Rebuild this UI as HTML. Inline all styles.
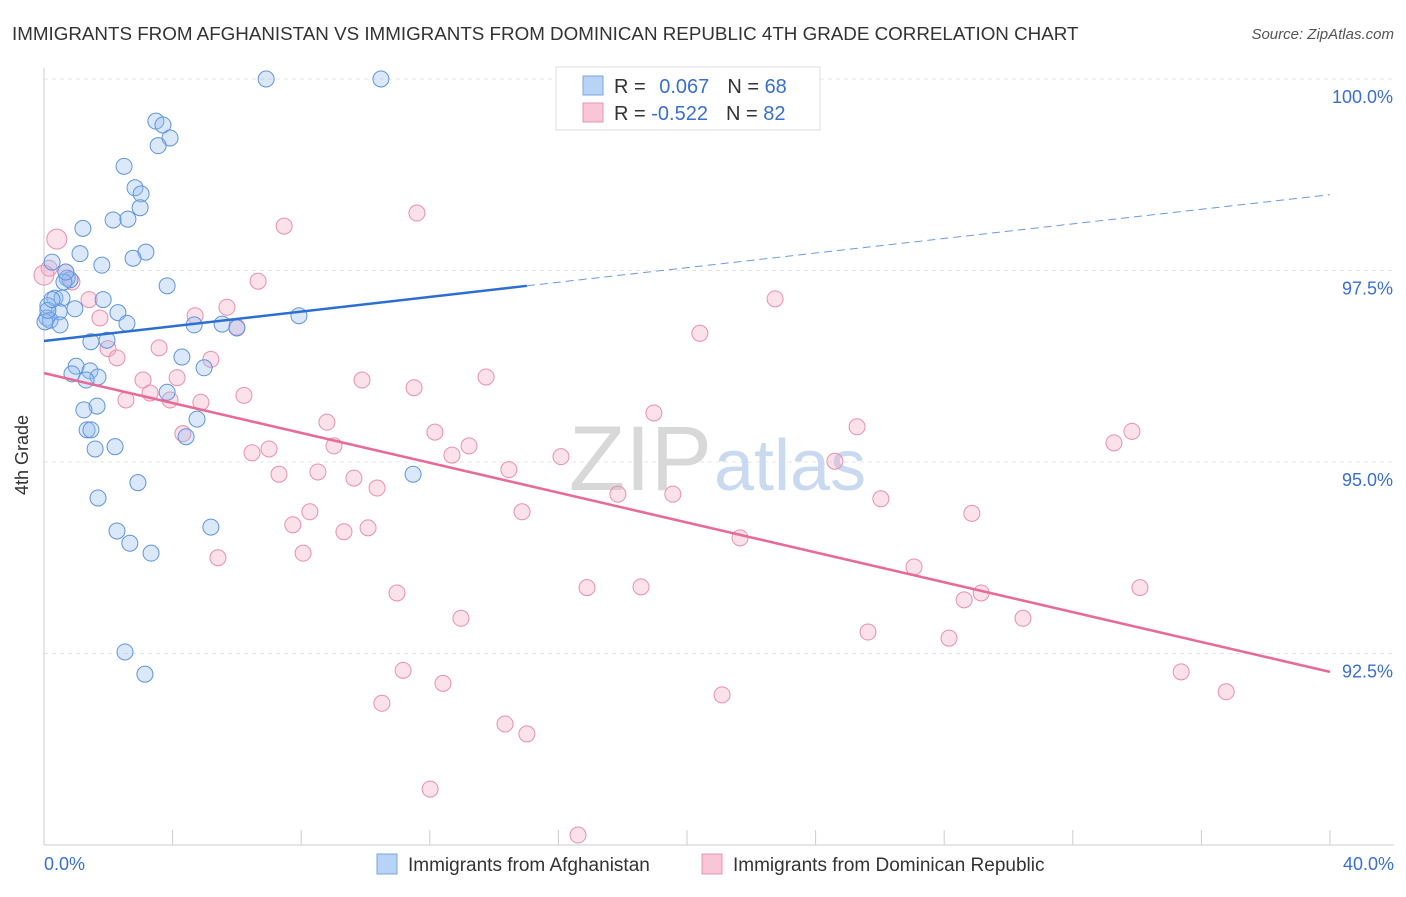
<!DOCTYPE html>
<html><head><meta charset="utf-8"><style>
body{margin:0;background:#fff;font-family:"Liberation Sans",sans-serif}
svg text{font-family:"Liberation Sans",sans-serif}
</style></head><body>
<svg width="1406" height="892">
<text x="12" y="40" font-size="18.8" fill="#333">IMMIGRANTS FROM AFGHANISTAN VS IMMIGRANTS FROM DOMINICAN REPUBLIC 4TH GRADE CORRELATION CHART</text>
<text x="1394" y="39" font-size="15" fill="#555" text-anchor="end" font-style="italic">Source: ZipAtlas.com</text>
<g id="grid"></g>
<g id="axes"></g>
<text x="712" y="490" font-size="92" fill="#d8d8d8" text-anchor="end" font-family="Liberation Serif">ZIP</text>
<text x="714" y="490" font-size="72" fill="#c9daf0">atlas</text>
<g id="pts"></g>
<g id="trends"></g>
<text x="28" y="455" font-size="18" fill="#333" text-anchor="middle" transform="rotate(-90 28 455)">4th Grade</text>
<g>
<rect x="556" y="67" width="264" height="63" fill="#fff" stroke="#ddd"/>
<rect x="583" y="76" width="20" height="19" fill="#b8d3f5" stroke="#7aa6e0"/>
<rect x="583" y="103" width="20" height="19" fill="#f8c6d6" stroke="#e895b0"/>
<text x="614" y="93" font-size="20" fill="#333">R = <tspan fill="#3a6fd0" dx="8">0.067</tspan><tspan dx="18">N = </tspan><tspan fill="#3a6fd0">68</tspan></text>
<text x="614" y="120" font-size="20" fill="#333">R = <tspan fill="#3a6fd0">-0.522</tspan><tspan dx="18">N = </tspan><tspan fill="#3a6fd0">82</tspan></text>
</g>
<g>
<rect x="377" y="854" width="20" height="20" fill="#b8d3f5" stroke="#7aa6e0"/>
<text x="408" y="871" font-size="19" fill="#333">Immigrants from Afghanistan</text>
<rect x="702" y="854" width="20" height="20" fill="#f8c6d6" stroke="#e895b0"/>
<text x="733" y="871" font-size="19" fill="#333">Immigrants from Dominican Republic</text>
</g>
</svg>
<script>
const yTicks=[100,97.5,95,92.5];
const yTickLabels=["100.0%","97.5%","95.0%","92.5%"];
const xTickLabels=["0.0%","40.0%"];
const blueX=[6.91,10.48,3.48,3.70,3.92,3.55,2.49,2.83,3.02,2.99,2.15,2.61,1.21,3.17,1.12,2.77,1.80,0.25,0.72,0.81,0.62,3.83,0.34,0.56,1.84,0.12,0.47,0.96,2.30,0.09,0.19,0.50,2.58,4.67,5.54,6.00,7.93,1.96,1.46,4.29,1.00,0.87,1.43,1.68,1.31,4.98,1.65,1.24,3.83,4.76,1.34,1.46,4.42,1.59,2.21,11.48,2.92,1.68,5.19,2.27,2.67,3.33,2.52,3.14,0.03,0.12,0.68,0.25];
const blueY=[100,100,99.45,99.40,99.23,99.13,98.86,98.58,98.50,98.32,98.16,98.17,98.05,97.74,97.72,97.66,97.57,97.61,97.40,97.38,97.35,97.30,97.14,97.14,97.12,97.04,96.96,97.00,96.95,96.88,96.85,96.79,96.81,96.79,96.80,96.75,96.91,96.59,96.57,96.37,96.25,96.15,96.19,96.11,96.07,96.23,95.73,95.68,95.91,95.56,95.42,95.42,95.33,95.17,95.20,94.84,94.73,94.53,94.15,94.10,93.94,93.81,92.52,92.23,96.83,96.98,97.48,97.12];
const pinkX=[0.40,0.16,0.68,0.87,7.47,11.60,6.66,1.40,1.74,5.69,4.70,6.00,22.74,20.40,1.99,2.27,3.58,5.19,3.08,4.14,9.89,11.51,13.75,2.55,3.30,3.92,4.88,6.22,8.80,4.32,9.02,7.00,6.47,12.16,13.22,12.69,16.08,18.97,25.29,33.84,33.28,24.60,7.31,8.52,9.64,10.36,14.46,17.85,19.56,26.03,8.27,14.87,7.74,9.33,10.08,28.86,21.65,5.41,8.06,27.06,16.89,18.57,10.98,29.15,34.09,28.62,12.97,30.45,25.63,28.15,11.17,12.41,21.09,35.37,36.77,10.51,14.34,15.02,12.01,16.61,0.0];
const pinkY=[97.91,97.53,97.48,97.35,98.08,98.25,97.36,97.12,96.88,97.02,96.91,96.76,97.13,96.68,96.48,96.36,96.49,96.34,96.07,96.10,96.07,95.97,96.11,95.81,95.90,95.81,95.78,95.87,95.52,95.37,95.21,95.17,95.12,95.39,95.21,95.09,95.07,95.64,95.46,95.40,95.25,95.01,94.84,94.87,94.79,94.66,94.90,94.58,94.58,94.52,94.35,94.35,94.18,94.09,94.14,94.33,94.01,93.75,93.81,93.63,93.36,93.37,93.29,93.29,93.36,93.20,92.96,92.96,92.78,92.70,92.28,92.11,91.96,92.26,92.00,91.85,91.58,91.45,90.73,90.13,97.44];
const blueTrend=[[0,96.58],[15.02,97.30],[40,98.49]];
const pinkTrend=[[0,96.16],[40,92.26]];
const NS="http://www.w3.org/2000/svg";
const X=v=>44+v/40*1286, Y=v=>79+(100-v)*76.6;
function mk(t,a,p){const e=document.createElementNS(NS,t);for(const k in a)e.setAttribute(k,a[k]);p.appendChild(e);return e;}
const grid=document.getElementById('grid'),axes=document.getElementById('axes');
yTicks.forEach((t,i)=>{
 const l=mk('line',{x1:44,x2:1394,y1:Y(t),y2:Y(t),stroke:'#e4e4e4','stroke-dasharray':'4 4'},grid);
 
 
 const tx=mk('text',{x:1393,y:Y(t)+24,'font-size':18,fill:'#3a6fd0','text-anchor':'end'},axes);
 tx.textContent=yTickLabels[i];
 
 
});
const xa=mk('line',{x1:44,x2:1394,y1:845,y2:845,stroke:'#ccc'},axes);


const ya=mk('line',{x1:44,x2:44,y1:68,y2:845,stroke:'#ccc'},axes);


for(let v=0;v<=40;v+=4){const t=mk('line',{x1:X(v),x2:X(v),y1:830,y2:845,stroke:'#ccc'},axes);
 
 }
[[0,'start',44],[40,'end',1394]].forEach((d,i)=>{const t=mk('text',{x:d[2],y:870,'font-size':18,fill:'#3a6fd0','text-anchor':d[1]},axes);t.textContent=xTickLabels[i];
 
 });
const pts=document.getElementById('pts');
pinkX.forEach((x,i)=>{const c=mk('circle',{cx:X(x),cy:Y(pinkY[i]),r:(i==0||i==80)?10:8,fill:'rgba(244,170,196,0.35)',stroke:'#e890ae','stroke-width':1},pts);
 
 });
blueX.forEach((x,i)=>{const c=mk('circle',{cx:X(x),cy:Y(blueY[i]),r:8,fill:'rgba(150,190,240,0.35)',stroke:'#5f95dc','stroke-width':1},pts);
 
 });
const tr=document.getElementById('trends');
const b1=mk('line',{x1:X(blueTrend[0][0]),y1:Y(blueTrend[0][1]),x2:X(blueTrend[1][0]),y2:Y(blueTrend[1][1]),stroke:'#2c6fd0','stroke-width':2.5},tr);


const b2=mk('line',{x1:X(blueTrend[1][0]),y1:Y(blueTrend[1][1]),x2:X(blueTrend[2][0]),y2:Y(blueTrend[2][1]),stroke:'#6a9ce0','stroke-width':1,'stroke-dasharray':'8 5'},tr);


const p1=mk('line',{x1:X(pinkTrend[0][0]),y1:Y(pinkTrend[0][1]),x2:X(pinkTrend[1][0]),y2:Y(pinkTrend[1][1]),stroke:'#e86a98','stroke-width':2.5},tr);


</script>
</body></html>
